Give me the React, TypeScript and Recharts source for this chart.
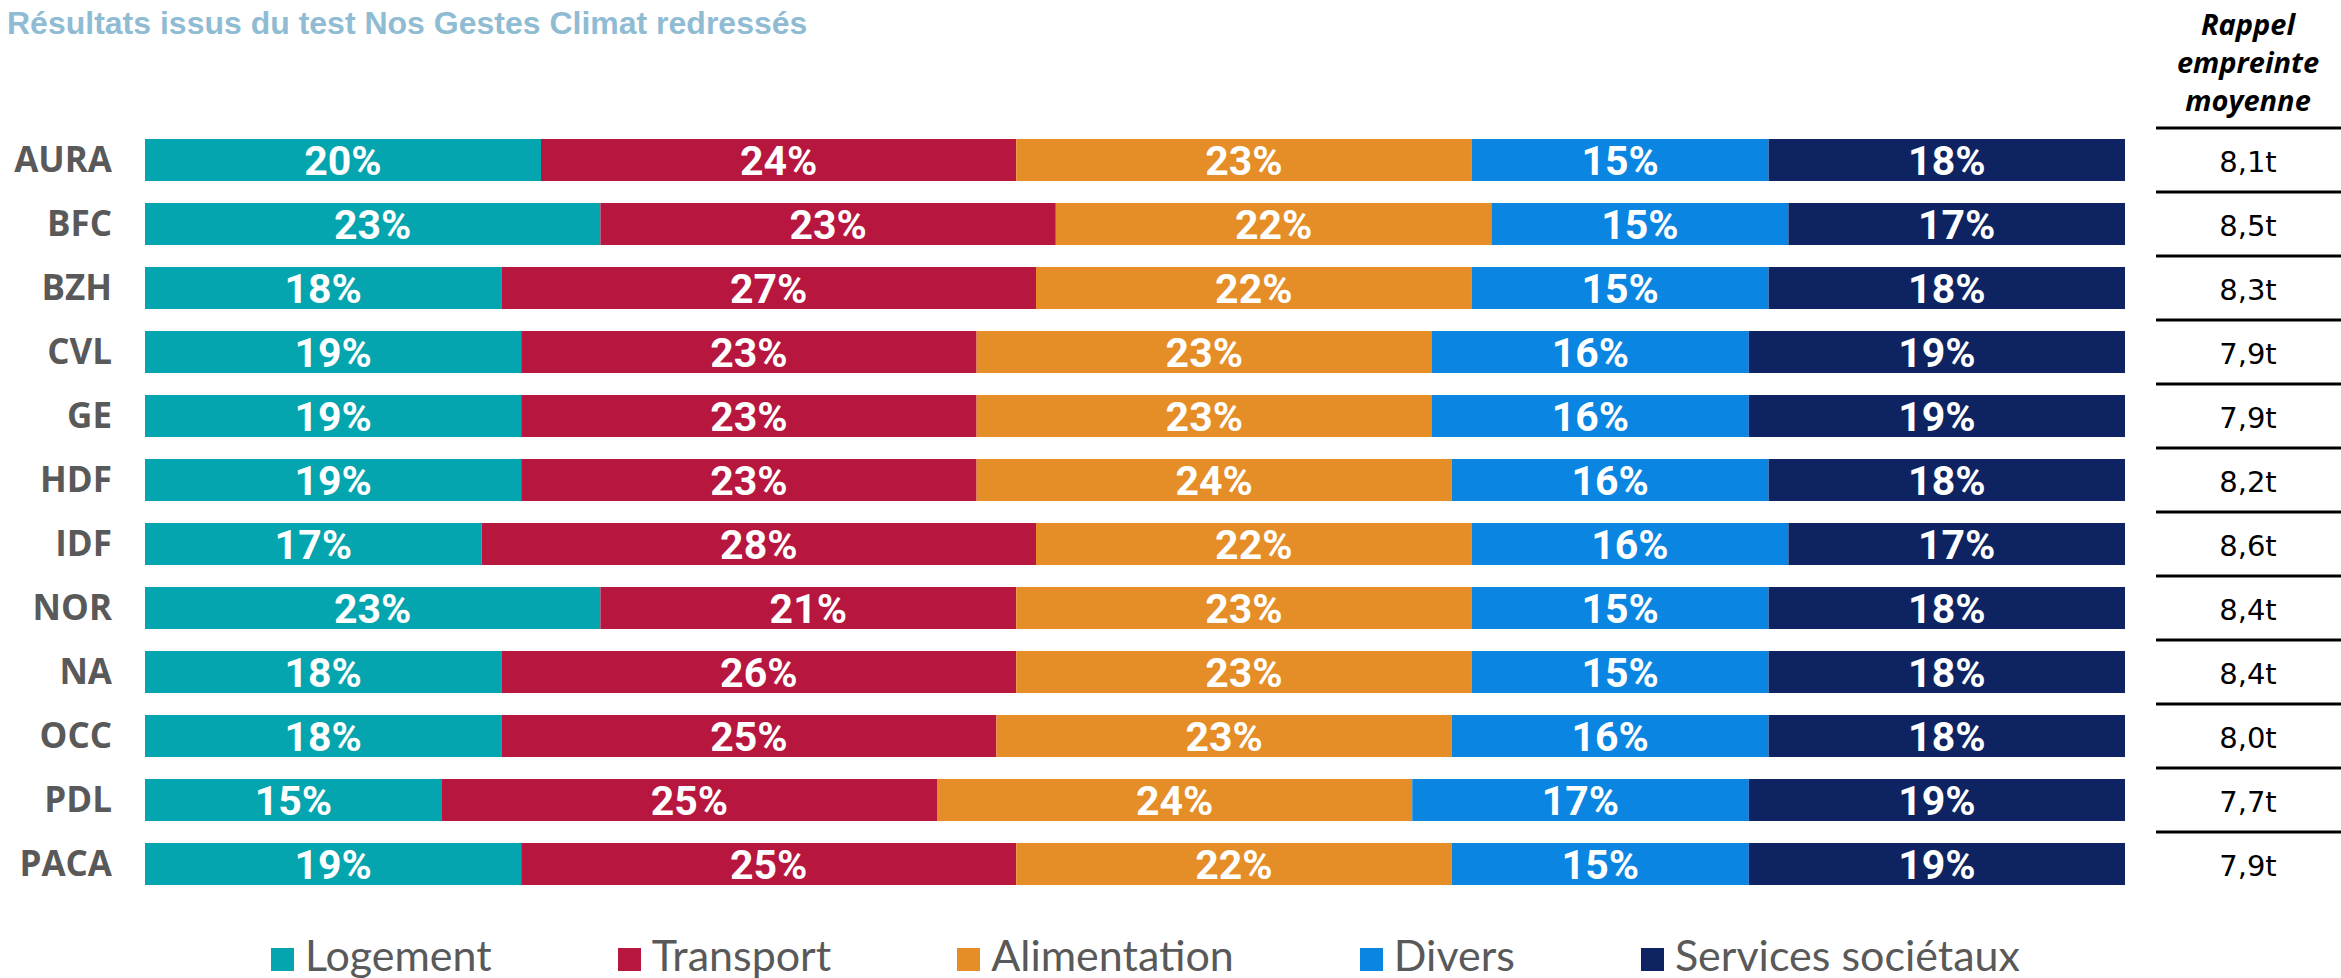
import React from 'react';
import { BarChart, Bar, XAxis, YAxis, LabelList, Legend } from 'recharts';

const regions = ['AURA', 'BFC', 'BZH', 'CVL', 'GE', 'HDF', 'IDF', 'NOR', 'NA', 'OCC', 'PDL', 'PACA'];
const logement = [20, 23, 18, 19, 19, 19, 17, 23, 18, 18, 15, 19];
const transport = [24, 23, 27, 23, 23, 23, 28, 21, 26, 25, 25, 25];
const alimentation = [23, 22, 22, 23, 23, 24, 22, 23, 23, 23, 24, 22];
const divers = [15, 15, 15, 16, 16, 16, 16, 15, 15, 16, 17, 15];
const services = [18, 17, 18, 19, 19, 18, 17, 18, 18, 18, 19, 19];
const empreinte = ['8,1t', '8,5t', '8,3t', '7,9t', '7,9t', '8,2t', '8,6t', '8,4t', '8,4t', '8,0t', '7,7t', '7,9t'];

const seriesKeys = ['logement', 'transport', 'alimentation', 'divers', 'services'];
const seriesNames = ['Logement', 'Transport', 'Alimentation', 'Divers', 'Services sociétaux'];
const seriesColors = ['#04A5AE', '#B7163F', '#E58E28', '#0B85E2', '#0E2462'];

const subtitle = 'Résultats issus du test Nos Gestes Climat redressés';
const tableHeader = ['Rappel', 'empreinte', 'moyenne'];

const data = regions.map((r, i) => ({
  region: r,
  logement: logement[i],
  transport: transport[i],
  alimentation: alimentation[i],
  divers: divers[i],
  services: services[i],
}));

const RightTick = (props: any) => {
  const { x, y, index } = props;
  return (
    <g>
      <line x1={x + 31} x2={x + 220} y1={y - 32} y2={y - 32} stroke="#000" strokeWidth={3} />
      <text
        x={x + 123}
        y={y + 12}
        textAnchor="middle"
        fill="#000"
        style={{ fontFamily: '"DejaVu Sans", sans-serif', fontSize: 29 }}
      >
        {empreinte[index]}
      </text>
    </g>
  );
};

const LegendContent = () => (
  <div
    style={{
      height: 82,
      display: 'flex',
      alignItems: 'flex-end',
      paddingLeft: 271,
      boxSizing: 'border-box',
      gap: 126,
    }}
  >
    {seriesNames.map((n, i) => (
      <span
        key={n}
        style={{
          fontFamily: 'Lato, sans-serif',
          fontSize: 43,
          lineHeight: '46px',
          color: '#595959',
          whiteSpace: 'nowrap',
        }}
      >
        <span
          style={{
            display: 'inline-block',
            width: 23,
            height: 23,
            background: seriesColors[i],
            marginRight: 11,
            verticalAlign: 'baseline',
          }}
        />
        {n}
      </span>
    ))}
  </div>
);

export default function App() {
  return (
    <div style={{ position: 'absolute', left: 0, top: 0, width: 2341, height: 978, background: '#fff', overflow: 'hidden' }}>
      <div
        style={{
          position: 'absolute',
          left: 7,
          top: 8,
          fontFamily: '"Liberation Sans", Arial, sans-serif',
          fontWeight: 'bold',
          fontSize: 32,
          lineHeight: '31px',
          color: '#8FBBD3',
          whiteSpace: 'nowrap',
        }}
      >
        {subtitle}
      </div>
      <div
        style={{
          position: 'absolute',
          left: 2155,
          width: 186,
          top: 5,
          textAlign: 'center',
          fontFamily: '"Open Sans", sans-serif',
          fontWeight: 'bold',
          fontStyle: 'italic',
          fontSize: 29,
          lineHeight: '38px',
          color: '#000',
        }}
      >
        {tableHeader.map((t) => (
          <div key={t}>{t}</div>
        ))}
      </div>
      <div style={{ position: 'absolute', left: 0, top: 0 }}>
        <BarChart
          width={2341}
          height={978}
          data={data}
          layout="vertical"
          margin={{ top: 128, right: 0, bottom: 0, left: 0 }}
        >
          <XAxis type="number" domain={[0, 100]} hide />
          <YAxis
            yAxisId="left"
            type="category"
            dataKey="region"
            width={145}
            axisLine={false}
            tickLine={false}
            tickSize={0}
            tickMargin={33}
            tick={{ fill: '#595959', fontSize: 35, fontWeight: 'bold', fontFamily: '"Open Sans", sans-serif' }}
          />
          <YAxis
            yAxisId="right"
            orientation="right"
            type="category"
            dataKey="region"
            width={216}
            axisLine={false}
            tickLine={false}
            tickSize={0}
            tickMargin={0}
            tick={<RightTick />}
          />
          <Legend verticalAlign="bottom" content={<LegendContent />} />
          {seriesKeys.map((k, i) => (
            <Bar
              key={k}
              dataKey={k}
              name={seriesNames[i]}
              yAxisId="left"
              stackId="a"
              fill={seriesColors[i]}
              barSize={42}
              isAnimationActive={false}
            >
              <LabelList
                dataKey={k}
                position="center"
                formatter={(v: any) => `${v}%`}
                fill="#fff"
                style={{ fontFamily: 'Roboto, sans-serif', fontWeight: 'bold', fontSize: 41 }}
              />
            </Bar>
          ))}
        </BarChart>
      </div>
    </div>
  );
}
